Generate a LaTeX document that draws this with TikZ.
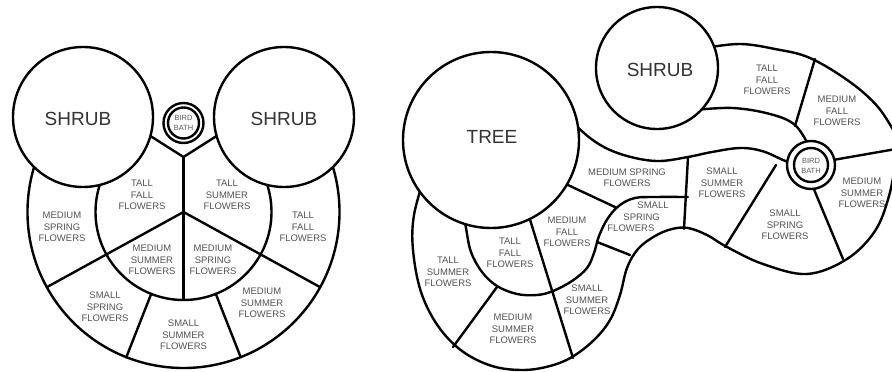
\documentclass[tikz,border=0pt]{standalone}
\usepackage{fontspec}
\setmainfont{Liberation Sans}
\begin{document}
\begin{tikzpicture}[x=1pt,y=-1pt,line width=2.4pt,line join=round,line cap=round,
  lab/.style={font=\fontsize{9.5}{11.4}\selectfont,text=black!68,align=center,inner sep=0pt},
  big/.style={font=\fontsize{19}{22}\selectfont,text=black!80,inner sep=0pt},
  tiny/.style={font=\fontsize{7.5}{10}\selectfont,text=black!65,align=center,inner sep=0pt},
  bed/.style={draw=black,fill=white}]
\useasboundingbox (0,0) rectangle (892,372);
\clip (0,0) rectangle (892,372);

% ================= LEFT DIAGRAM =================
\coordinate (LC) at (183.5,212);
\begin{scope}
  \clip (0,137) -- (152,137) -- (183.5,157) -- (215,137) -- (380,137) -- (380,372) -- (0,372) -- cycle;
  \draw (LC) circle[radius=156];
  \draw (LC) circle[radius=88];
\end{scope}
% radial lines
\draw (LC) -- (46.8,287.2);
\draw (LC) -- (320.2,287.2);
\draw (151.2,293.9) -- (126.3,357.2);
\draw (215.8,293.9) -- (240.7,357.2);
\draw (140,129.4) -- (183.5,157) -- (227,129.4);
\draw (183.5,157) -- (183.5,300);
% shrubs and bird bath
\draw[bed] (83,117) circle[radius=70];
\draw[bed] (284,117) circle[radius=70];
\draw[bed] (183.5,123) circle[radius=20];
\draw (183.5,123) circle[radius=15.5];

\node[big] (ls1) at (78,119) {SHRUB};
\node[big] (ls2) at (284,119) {SHRUB};
\node[tiny] (lbb) at (183.5,123) {BIRD\\BATH};
\node[lab] (l1) at (142,195) {TALL\\FALL\\FLOWERS};
\node[lab] (l2) at (227,195) {TALL\\SUMMER\\FLOWERS};
\node[lab] (l3) at (152,260) {MEDIUM\\SUMMER\\FLOWERS};
\node[lab] (l4) at (213,260) {MEDIUM\\SPRING\\FLOWERS};
\node[lab] (l5) at (62,227) {MEDIUM\\SPRING\\FLOWERS};
\node[lab] (l6) at (303,227) {TALL\\FALL\\FLOWERS};
\node[lab] (l7) at (105,307) {SMALL\\SPRING\\FLOWERS};
\node[lab] (l8) at (183.5,335) {SMALL\\SUMMER\\FLOWERS};
\node[lab] (l9) at (262,303) {MEDIUM\\SUMMER\\FLOWERS};

% ================= RIGHT DIAGRAM =================
% outer boundary
\draw plot[smooth,tension=0.6] coordinates {(425,175) (414,215) (413,250) (421,292) (438,326) (462,351) (492,366) (523,370) (550,366) (572,357) (594,340) (610,320) (620,295) (627,268) (638,249) (655,236) (672,229) (688,228) (707,235) (727,247) (763,264) (807,274) (847,259) (875,231) (889,196) (896,160)};
% top arc
\draw plot[smooth,tension=0.6] coordinates {(705,48) (740,44) (775,49) (810,58) (850,82) (878,107) (896,135)};
% curve C (below tall fall band)
\draw plot[smooth,tension=0.6] coordinates {(695,110) (733,108) (770,114) (795,125) (810,148)};
% curve B
\draw plot[smooth,tension=0.6] coordinates {(570,120) (590,138) (610,150) (635,158) (660,161) (688,157) (712,152) (740,148) (762,151) (783,160) (797,166)};
% S curve
\draw plot[smooth,tension=0.6] coordinates {(463,210) (466,228) (471,252) (482,272) (497,286) (517,294) (537,295) (553,291) (572,281) (587,268) (594,253) (599,236) (608,218) (620,205) (635,198) (655,197) (688,197)};
% straight dividers
\draw (560,181.3) -- (616,207.5);
\draw (527,210) -- (573,358);
\draw (497,287) -- (453,347);
\draw (597,242) -- (630,255);
\draw (688,157) -- (684,229);
\draw (776,165) -- (725,247);
\draw (813,187) -- (843,259);
\draw (833,160) -- (896,149);
\draw (815,59) -- (795,126);
% tree, shrub, bird bath
\draw[bed] (491,140) circle[radius=88];
\draw[bed] (657,68) circle[radius=61];
\draw[bed] (811,165) circle[radius=24];
\draw (811,165) circle[radius=17];

\node[big] (rt) at (492,137) {TREE};
\node[big] (rs) at (660,70) {SHRUB};
\node[tiny] (rbb) at (811,166) {BIRD\\BATH};
\node[lab] (r1) at (767,80) {TALL\\FALL\\FLOWERS};
\node[lab] (r2) at (837,111) {MEDIUM\\FALL\\FLOWERS};
\node[lab] (r3) at (627,178) {MEDIUM SPRING\\FLOWERS};
\node[lab] (r4) at (722,183) {SMALL\\SUMMER\\FLOWERS};
\node[lab] (r5) at (785,225) {SMALL\\SPRING\\FLOWERS};
\node[lab] (r6) at (862,193) {MEDIUM\\SUMMER\\FLOWERS};
\node[lab,align=left] (r7) at (638,217) {\hspace*{30pt}SMALL\\\hspace*{16pt}SPRING\\FLOWERS};
\node[lab] (r8) at (567,232) {MEDIUM\\FALL\\FLOWERS};
\node[lab] (r9) at (510,253) {TALL\\FALL\\FLOWERS};
\node[lab] (r10) at (448,272) {TALL\\SUMMER\\FLOWERS};
\node[lab] (r11) at (513,329) {MEDIUM\\SUMMER\\FLOWERS};
\node[lab] (r12) at (587,300) {SMALL\\SUMMER\\FLOWERS};
\end{tikzpicture}
\end{document}
